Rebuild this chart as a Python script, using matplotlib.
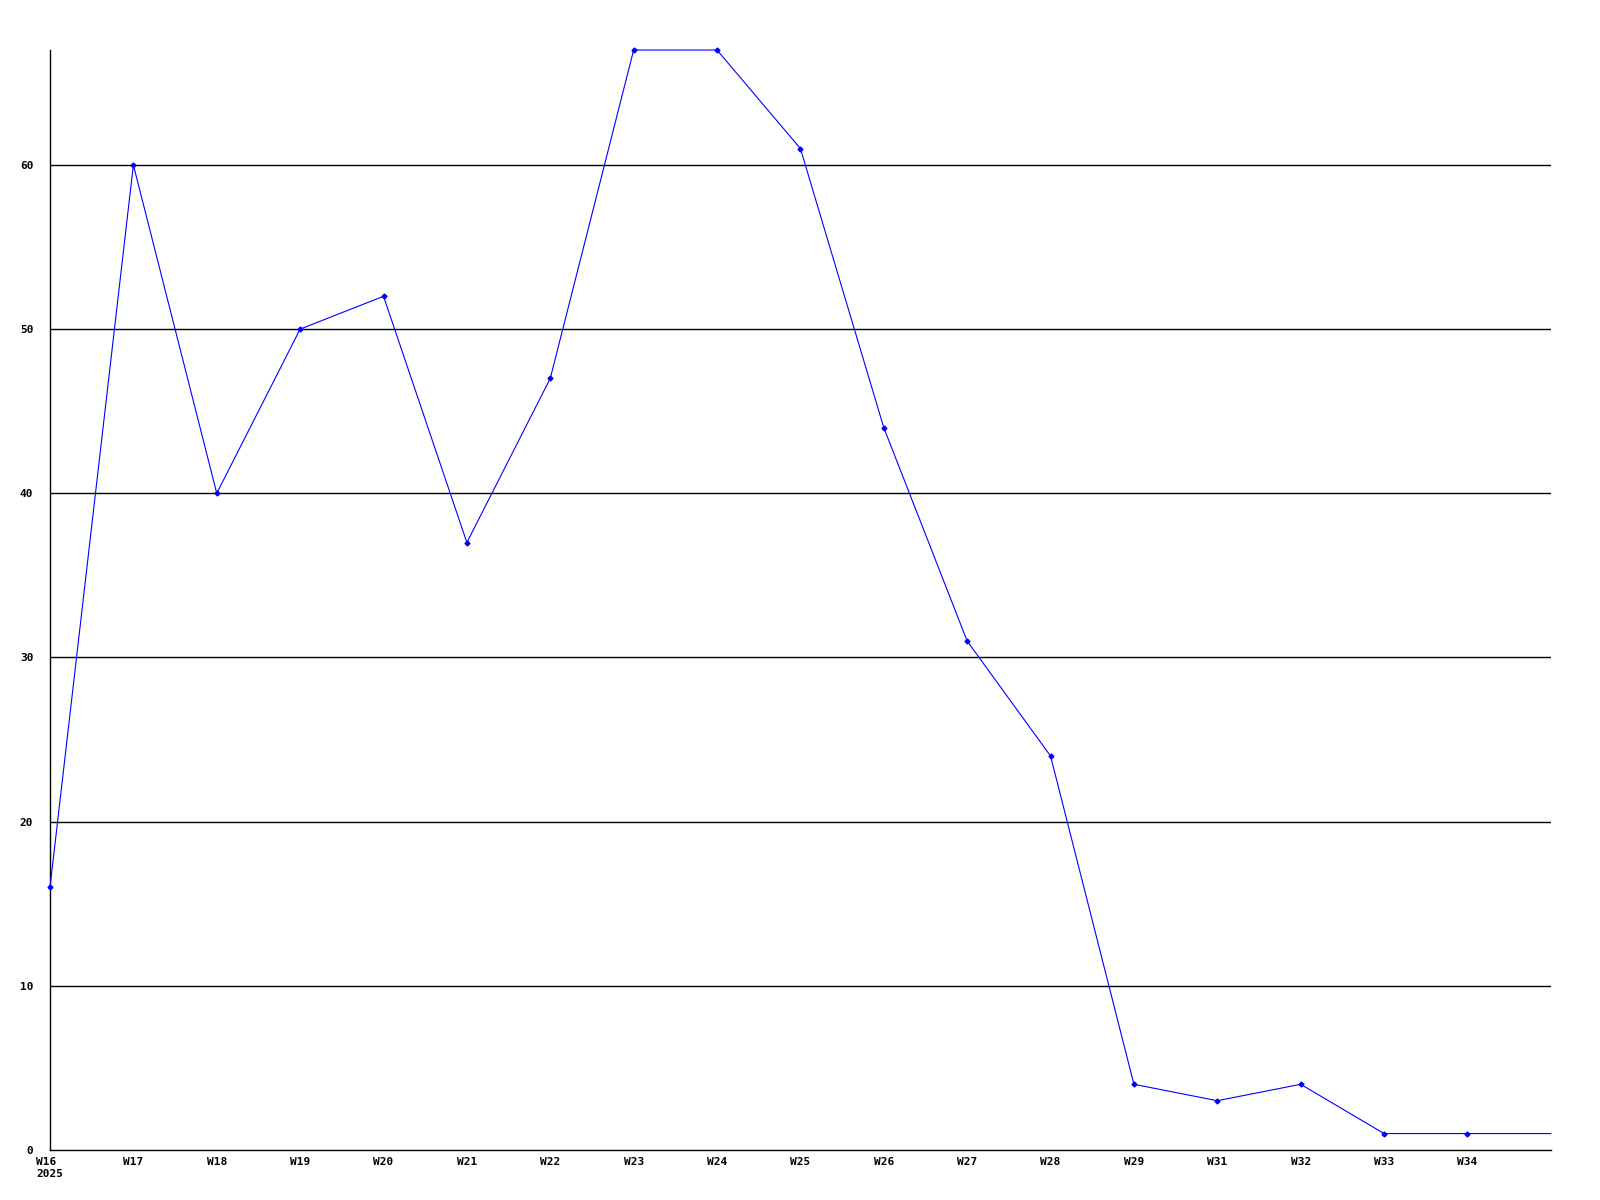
import numpy as np
from matplotlib import pyplot as plt

weeks = ["W16\n2025", "W17", "W18", "W19", "W20", "W21", "W22", "W23", "W24",
         "W25", "W26", "W27", "W28", "W29", "W31", "W32", "W33", "W34", ""]
counts = [16, 60, 40, 50, 52, 37, 47, 67, 67, 61, 44, 31, 24, 4, 3, 4, 1, 1, 1]
yticks = [0, 10, 20, 30, 40, 50, 60]

if __name__ == "__main__":
    fig = plt.figure(figsize=(16, 12), dpi=100)
    ax = fig.add_axes([0.03125, 0.0417, 0.938, 0.9166])
    X = np.arange(len(counts))

    for y in yticks[1:]:
        ax.axhline(y, color="black", linewidth=1.0, zorder=1)

    ax.plot(X, counts, color="blue", linewidth=0.8, zorder=3, clip_on=False)
    # last point is just the tail of the line, no marker there
    ax.plot(X[:-1], counts[:-1], linestyle="none", marker="D", markersize=2.5,
            color="blue", zorder=4, clip_on=False)

    ax.set_xlim(0, len(counts) - 1)
    ax.set_ylim(0, 67)
    ax.set_xticks(X[:-1])
    ax.set_xticklabels(weeks[:-1], ha="center", va="top")
    for lab in ax.get_xticklabels():
        if "\n" in lab.get_text():
            lab.set_multialignment("left")
    ax.set_yticks(yticks)
    ax.tick_params(length=0, labelsize=8)
    for lab in ax.get_xticklabels() + ax.get_yticklabels():
        lab.set_fontfamily("DejaVu Sans Mono")
        lab.set_fontweight("bold")
    ax.tick_params(axis="y", pad=12)
    ax.tick_params(axis="x", pad=5)

    ax.spines["top"].set_visible(False)
    ax.spines["right"].set_visible(False)
    ax.spines["left"].set_linewidth(1.0)
    ax.spines["bottom"].set_linewidth(1.0)

    plt.savefig("out.png", dpi=100)
